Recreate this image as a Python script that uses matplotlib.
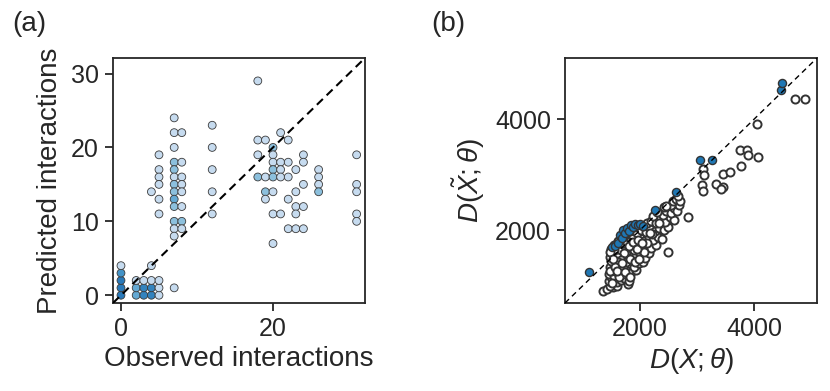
import matplotlib
matplotlib.use("Agg")
import matplotlib.pyplot as plt
import numpy as np

plt.rcParams['font.family'] = ['Liberation Sans', 'DejaVu Sans']
plt.rcParams['mathtext.fontset'] = 'custom'
plt.rcParams['mathtext.rm'] = 'Liberation Sans'
plt.rcParams['mathtext.it'] = 'Liberation Sans:italic'

# ---------------- panel (a) data ----------------
obs_a = [0, 0, 0, 0, 0,
         2, 2, 2, 3, 3, 3, 4, 4, 4, 4, 5, 5, 5, 7,
         4,
         5, 5, 5, 5, 5, 5,
         7, 7, 7, 7, 7, 7, 7, 7, 7, 7, 7, 7, 7,
         8, 8, 8, 8, 8, 8, 8, 8,
         12, 12, 12, 12, 12,
         18, 18, 18, 18,
         19, 19, 19, 19,
         20, 20, 20, 20, 20, 20, 20, 20,
         21, 21, 21, 21, 21,
         22, 22, 22, 22, 22,
         23, 23, 23, 23, 23,
         24, 24, 24, 24, 24,
         26, 26, 26, 26,
         31, 31, 31, 31, 31]
pred_a = [0, 1, 2, 3, 4,
          0, 1, 2, 0, 1, 2, 0, 1, 2, 4, 0, 1, 2, 1,
          14,
          19, 17, 16, 15, 13, 11,
          24, 22, 20, 18, 17, 16, 15, 14, 13, 12, 10, 9, 8,
          22, 18, 16, 15, 14, 12, 10, 9,
          23, 20, 17, 14, 11,
          29, 21, 19, 16,
          21, 16, 14, 13,
          20, 19, 18, 17, 16, 14, 11, 7,
          22, 18, 17, 16, 11,
          21, 18, 16, 13, 9,
          17, 14, 12, 11, 9,
          19, 18, 15, 12, 9,
          17, 16, 15, 14,
          19, 15, 14, 11, 10]
count_a = [6, 6, 6, 4, 1,
           3, 3, 1, 5, 5, 1, 5, 5, 1, 1, 1, 1, 1, 1,
           1,
           1, 1, 1, 1, 1, 1,
           1, 1, 1, 2, 2, 1, 2, 2, 3, 2, 2, 1, 1,
           1, 1, 1, 1, 1, 1, 2, 1,
           1, 1, 1, 1, 1,
           1, 1, 1, 2,
           1, 1, 2, 1,
           2, 1, 1, 2, 2, 1, 1, 1,
           1, 1, 1, 1, 1,
           1, 1, 1, 1, 1,
           1, 1, 1, 1, 1,
           1, 1, 1, 1, 1,
           1, 1, 1, 2,
           1, 1, 1, 1, 1]
xticks_a = [0, 20]
yticks_a = [0, 10, 20, 30]

# ---------------- panel (b) data ----------------
dx_hollow = [1360, 1430, 1530, 1600, 1790, 1480,
             1450, 1520, 1590, 1660, 1720, 1800, 1490,
             1460, 1550, 1620, 1700, 1760, 1850, 1930, 1500, 1580, 1680,
             1470, 1540, 1610, 1690, 1770, 1840, 1900, 1980, 1500, 1650, 1720, 2050,
             1480, 1560, 1620, 1700, 1780, 1850, 1920, 2000, 2080, 2150, 1530, 1760, 2500,
             1490, 1580, 1660, 1740, 1810, 1890, 1960, 2040, 2110, 2200, 2280, 1700, 1550,
             1620, 1780, 1850, 1920, 2000, 2070, 2150, 2230, 2310, 2380, 1700, 1880,
             1760, 1830, 1950, 2020, 2100, 2180, 2260, 2340, 2420, 2500, 2060, 1900,
             2120, 2200, 2280, 2360, 2440, 2520, 2600, 2230, 2400,
             2300, 2460, 2540, 2600, 2650, 2690, 2550, 2420,
             2580, 2640, 2700, 2660, 2456, 2848,
             1640, 1720, 1800, 1880, 1960, 1590, 1660, 1540, 1610,
             1470, 1510, 1560, 1640, 1700, 1750, 1830, 1910, 1990, 2070, 2130, 2210,
             1480, 1530, 1600, 1680, 1740, 1820, 1950, 2040, 2170, 2330,
             3082, 3111, 3111, 3129, 3333, 3450, 3415, 3461, 3579, 3766,
             3754, 3871, 3900, 4076, 4047, 4725, 4900]
dy_hollow = [905, 930, 965, 990, 1030, 1000,
             1080, 1120, 1060, 1100, 1140, 1090, 1150,
             1200, 1180, 1230, 1200, 1260, 1240, 1280, 1270, 1300, 1290,
             1340, 1380, 1360, 1400, 1350, 1390, 1330, 1400, 1440, 1450, 1440, 1420,
             1520, 1500, 1560, 1530, 1490, 1550, 1510, 1560, 1500, 1580, 1590, 1600, 1610,
             1660, 1650, 1700, 1660, 1700, 1640, 1700, 1650, 1720, 1680, 1740, 1760, 1730,
             1800, 1790, 1830, 1780, 1850, 1800, 1870, 1820, 1880, 1840, 1880, 1900,
             1950, 1990, 1950, 2000, 1960, 2020, 1980, 2030, 2000, 2050, 2080, 2050,
             2120, 2170, 2120, 2200, 2150, 2230, 2180, 2250, 2280,
             2330, 2350, 2300, 2400, 2340, 2450, 2450, 2420,
             2520, 2560, 2530, 2610, 2432, 2240,
             1620, 1580, 1720, 1780, 1830, 1520, 1460, 1640, 1420,
             1260, 1050, 1330, 1160, 1330, 1430, 1480, 1430, 1480, 1600, 1770, 1930,
             1610, 1480, 1270, 1400, 1240, 1160, 1660, 1760, 1940, 2120,
             2810, 2702, 3110, 2990, 2828, 2769, 2733, 3020, 3050, 3152,
             3440, 3440, 3350, 3320, 3920, 4370, 4370]
dx_blue = [1110, 1510, 1560, 1620, 1650, 1680, 1710, 1740, 1770, 1800, 1850,
           1880, 1920, 1970, 2000, 2050, 2260, 2630, 3060, 3260, 4470, 4490]
dy_blue = [1240, 1690, 1720, 1770, 1910, 1850, 2000, 1940, 2040, 1980, 2090,
           2050, 2110, 2100, 2110, 2080, 2370, 2690, 3260, 3260, 4530, 4660]
ticks_b = [2000, 4000]

# ---------------- figure ----------------
fig = plt.figure(figsize=(8.3, 3.91), dpi=100)
axa = fig.add_axes([113/830, 1-303/391, 252/830, 245/391])
axb = fig.add_axes([565/830, 1-303/391, 252/830, 245/391])

spine_c = '#262626'
for ax in (axa, axb):
    for s in ('top', 'right', 'left', 'bottom'):
        ax.spines[s].set_linewidth(1.3)
        ax.spines[s].set_color(spine_c)
    ax.tick_params(axis='both', which='major', length=6, width=1.3,
                   color=spine_c, labelcolor=spine_c, labelsize=18, pad=4,
                   direction='out')

# panel (a)
cmap = plt.get_cmap('Blues')
level_map = {1: 0.25, 2: 0.42, 3: 0.52, 4: 0.62, 5: 0.68, 6: 0.72}
cvals = [cmap(level_map[c]) for c in count_a]
axa.scatter(obs_a, pred_a, s=32, c=cvals, edgecolors='#3a3a3a',
            linewidths=0.6, zorder=2)
lim_a = (-1.05, 32.1)
axa.plot(lim_a, lim_a, ls=(0, (4, 2.5)), color='black', lw=1.5, zorder=3)
axa.set_xlim(lim_a)
axa.set_ylim(lim_a)
axa.set_xticks(xticks_a)
axa.set_yticks(yticks_a)
axa.set_xlabel('Observed interactions', fontsize=20, color=spine_c, labelpad=4)
axa.set_ylabel('Predicted interactions', fontsize=20, color=spine_c, labelpad=6)

# panel (b)
axb.scatter(dx_hollow, dy_hollow, s=34, facecolors='white', edgecolors='#333333',
            linewidths=1.4, zorder=2)
axb.scatter(dx_blue, dy_blue, s=34, facecolors='#1f77b4', edgecolors='#333333',
            linewidths=1.0, zorder=2.5)
lim_b = (685, 5105)
axb.plot(lim_b, lim_b, ls=(0, (4, 3)), color='black', lw=1.0, zorder=3)
axb.set_xlim(lim_b)
axb.set_ylim(lim_b)
axb.set_xticks(ticks_b)
axb.set_yticks(ticks_b)
axb.set_xlabel(r'$D(X;\theta)$', fontsize=20, color=spine_c, labelpad=4)
axb.set_ylabel(r'$D(\tilde{X};\theta)$', fontsize=20, color=spine_c, labelpad=6)

fig.text(12/830, 1-24/391, '(a)', fontsize=20, color=spine_c, va='center', ha='left')
fig.text(431/830, 1-24/391, '(b)', fontsize=20, color=spine_c, va='center', ha='left')

fig.savefig('out.png', dpi=100)
